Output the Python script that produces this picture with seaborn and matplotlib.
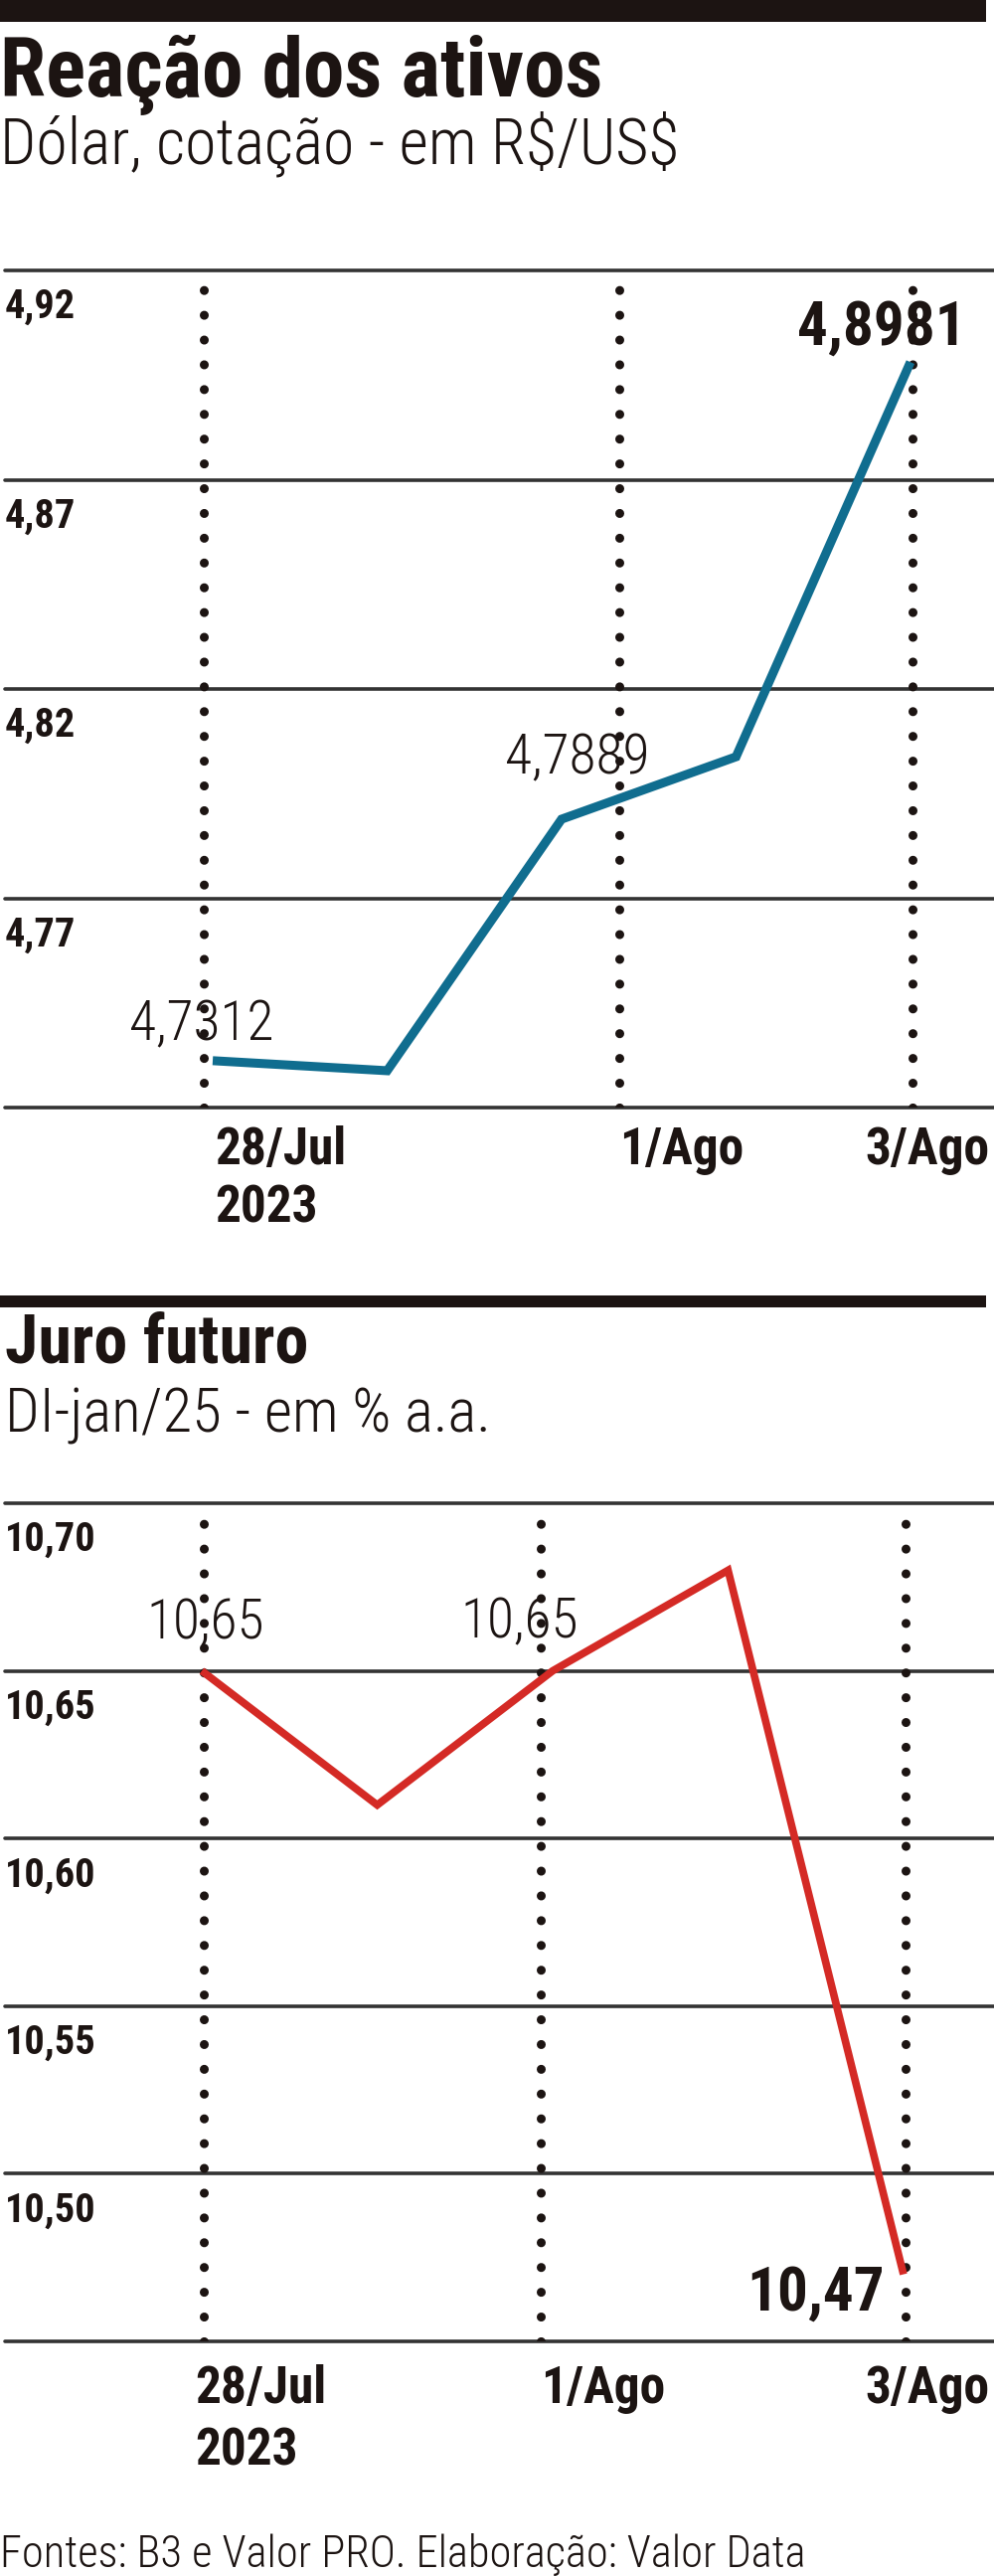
import matplotlib
matplotlib.use('Agg')
import pandas as pd
import seaborn as sns
from matplotlib import pyplot as plt
from matplotlib import font_manager
from matplotlib.patches import Rectangle

days = ['28/Jul', '31/Jul', '1/Ago', '2/Ago', '3/Ago']
dolar = [4.7312, 4.7288, 4.7889, 4.8038, 4.8981]
juro = [10.65, 10.61, 10.65, 10.68, 10.47]

dolar_ticks = [4.92, 4.87, 4.82, 4.77, 4.72]
dolar_tick_labels = ['4,92', '4,87', '4,82', '4,77']
juro_ticks = [10.70, 10.65, 10.60, 10.55, 10.50, 10.45]
juro_tick_labels = ['10,70', '10,65', '10,60', '10,55', '10,50']

date_labels = ['28/Jul', '1/Ago', '3/Ago']
year_label = '2023'
# dotted reference lines, in day-index units
dolar_marks = [-0.05, 2.33, 4.01]
juro_marks = [0.01, 1.93, 4.01]

dolar_notes = [0, 2, 4]
juro_notes = [0, 2, 4]

INK = '#1c1412'
GRID = '#333333'
BLUE = '#106d8f'
RED = '#d42a25'


def pick_font():
    names = {f.name for f in font_manager.fontManager.ttflist}
    for cand in ['Roboto Condensed', 'Liberation Sans Narrow', 'DejaVu Sans Condensed', 'Open Sans Condensed']:
        if cand in names:
            return cand
    return 'Liberation Sans'


def draw_panel(ax, values, decimals, color, lw, ticks, tick_labels, marks, xlim,
               notes, note_offsets, date_dx, date_dy):
    df = pd.DataFrame({'pos': range(len(values)), 'valor': values})

    for t in ticks:
        ax.axhline(t, color=GRID, linewidth=2.6, clip_on=False, zorder=1)
    for m in marks:
        ax.axvline(m, ymin=0, ymax=0.985, color=INK, linewidth=6.5, linestyle=(0, (0.01, 2.75)),
                   dash_capstyle='round', zorder=1)

    sns.lineplot(data=df, x='pos', y='valor', ax=ax, color=color, linewidth=lw,
                 solid_joinstyle='miter', solid_capstyle='butt', zorder=3)

    ax.set_xlim(*xlim)
    ax.set_ylim(min(ticks), max(ticks))
    ax.axis('off')

    for t, lab in zip(ticks, tick_labels):
        ax.annotate(lab, xy=(0, t), xycoords=('axes fraction', 'data'),
                    xytext=(0, -13), textcoords='offset points',
                    ha='left', va='top', fontsize=29, fontweight='bold', color=INK)

    for idx, (dx, dy, ha, bold) in zip(notes, note_offsets):
        txt = f'{values[idx]:.{decimals}f}'.replace('.', ',')
        ax.annotate(txt, xy=(idx, values[idx]), xytext=(dx, dy), textcoords='offset points',
                    ha=ha, va='baseline', fontsize=44 if bold else 40, color=INK,
                    fontweight='bold' if bold else 'light', zorder=4)

    for i, (m, lab) in enumerate(zip(marks, date_labels)):
        if i == len(marks) - 1:
            ax.annotate(lab, xy=(0.995, 0), xycoords='axes fraction',
                        xytext=(0, date_dy[0]), textcoords='offset points',
                        ha='right', va='baseline', fontsize=37, fontweight='bold', color=INK)
        else:
            ax.annotate(lab, xy=(m, 0), xycoords=('data', 'axes fraction'),
                        xytext=(date_dx if i == 0 else 0, date_dy[0]), textcoords='offset points',
                        ha='left', va='baseline', fontsize=37, fontweight='bold', color=INK)
    ax.annotate(year_label, xy=(marks[0], 0), xycoords=('data', 'axes fraction'),
                xytext=(date_dx, date_dy[1]), textcoords='offset points',
                ha='left', va='baseline', fontsize=37, fontweight='bold', color=INK)


def main():
    sns.set_theme(style='white')
    font = pick_font()
    plt.rcParams['font.family'] = [font, 'DejaVu Sans']

    fig = plt.figure(figsize=(10, 25.91), dpi=100)
    fig.patch.set_facecolor('white')
    H = 2591.0

    # black header bars
    fig.add_artist(Rectangle((0, 1 - 22 / H), 0.992, 22 / H, transform=fig.transFigure,
                             color=INK, lw=0))
    fig.add_artist(Rectangle((0, 1 - 1315 / H), 0.992, 12 / H, transform=fig.transFigure,
                             color=INK, lw=0))

    fig.text(0.0, 1 - 97 / H, 'Reação dos ativos', fontsize=60, fontweight='bold',
             color=INK, va='baseline')
    fig.text(0.0, 1 - 165 / H, r'Dólar, cotação - em R\$/US\$', fontsize=46,
             fontweight='light', color=INK, va='baseline')
    fig.text(0.005, 1 - 1370 / H, 'Juro futuro', fontsize=49, fontweight='bold',
             color=INK, va='baseline')
    fig.text(0.005, 1 - 1440 / H, 'DI-jan/25 - em % a.a.', fontsize=44,
             fontweight='light', color=INK, va='baseline')
    fig.text(0.0, 1 - 2582 / H, 'Fontes: B3 e Valor PRO. Elaboração: Valor Data',
             fontsize=32, fontweight='light', color=INK, va='baseline')

    ax1 = fig.add_axes([0.005, 1 - 1114 / H, 0.995, (1114 - 272) / H])
    draw_panel(ax1, dolar, 4, BLUE, 6.5, dolar_ticks, dolar_tick_labels, dolar_marks,
               (-1.191, 4.479), dolar_notes,
               [(-8, 15, 'center', False), (11, 33, 'center', False), (-21, 13, 'center', True)],
               8, (-41, -83.5))

    ax2 = fig.add_axes([0.005, 1 - 2355 / H, 0.995, (2355 - 1512) / H])
    draw_panel(ax2, juro, 2, RED, 5.5, juro_ticks, juro_tick_labels, juro_marks,
               (-1.122, 4.516), juro_notes,
               [(3, 23, 'center', False), (-24, 24, 'center', False), (-14, -26, 'right', True)],
               -6, (-45, -90))

    fig.savefig('out.png', dpi=100, facecolor='white')


if __name__ == '__main__':
    main()
